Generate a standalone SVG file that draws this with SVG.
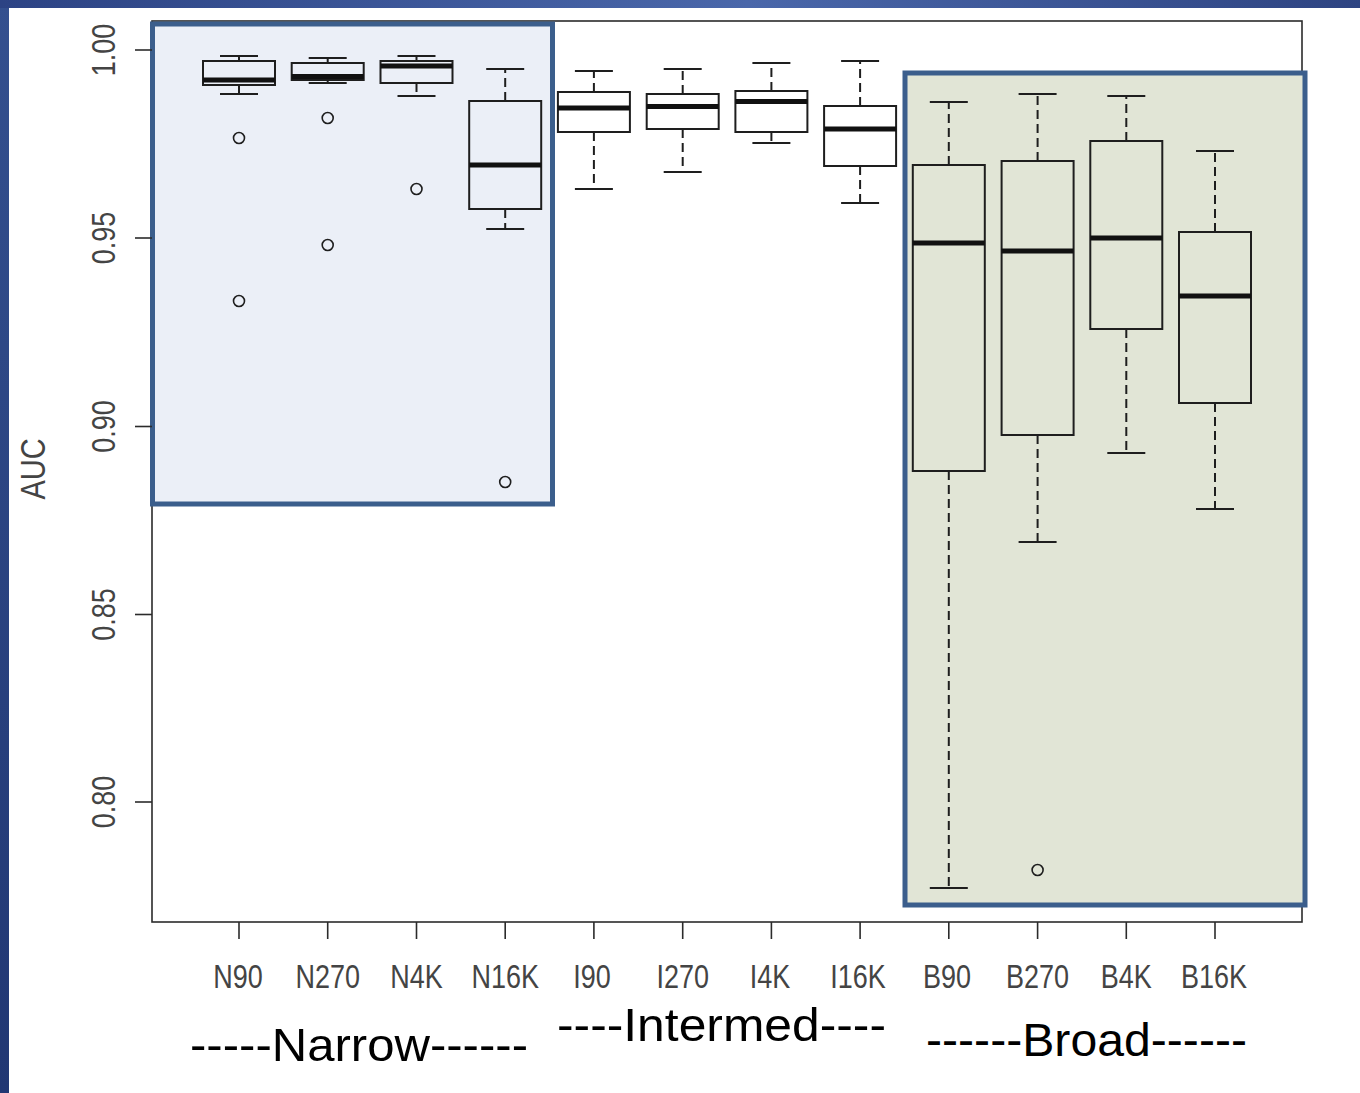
<svg xmlns="http://www.w3.org/2000/svg" width="1360" height="1093" viewBox="0 0 1360 1093">
<defs>
<linearGradient id="bgH" x1="0" y1="0" x2="1" y2="0">
<stop offset="0" stop-color="#2c4384"/>
<stop offset="0.55" stop-color="#4a67aa"/>
<stop offset="1" stop-color="#2e4482"/>
</linearGradient>
<linearGradient id="bgV" x1="0" y1="0" x2="0" y2="1">
<stop offset="0" stop-color="#34508f"/>
<stop offset="1" stop-color="#213773"/>
</linearGradient>
<style>
.frame{fill:none;stroke:#2b2b2b;stroke-width:1.6}
.hl{stroke:#3b5e8c;stroke-width:5}
.box{fill:none;stroke:#1e1e1e;stroke-width:2}
.med{stroke:#111;stroke-width:5}
.wh{stroke:#1e1e1e;stroke-width:2;stroke-dasharray:9 5}
.cap{stroke:#1e1e1e;stroke-width:2}
.out{fill:none;stroke:#1e1e1e;stroke-width:1.6}
.tick{stroke:#2b2b2b;stroke-width:1.6}
.tl{font-family:"Liberation Sans",Arial,sans-serif;font-size:27px;fill:#444444;text-anchor:middle}
.grp{font-family:"Liberation Sans",Arial,sans-serif;font-size:47px;fill:#000}
</style>
</defs>
<rect x="0" y="0" width="1360" height="1093" fill="url(#bgV)"/>
<rect x="0" y="0" width="1360" height="8" fill="url(#bgH)"/>
<rect x="9" y="8" width="1351" height="1085" fill="#ffffff"/>

<g id="plot-frame">
<rect class="frame" x="152" y="21" width="1150" height="901"/>
</g>

<g id="highlight-narrow">
<rect class="hl" x="152.5" y="24" width="400" height="480" fill="#ebeff7"/>
</g>
<g id="highlight-broad">
<rect class="hl" x="905" y="73" width="400" height="832" fill="#e1e5d6"/>
</g>

<g id="box-N90">
<line class="wh" x1="239" y1="61" x2="239" y2="56"/><line class="cap" x1="220" y1="56" x2="258" y2="56"/>
<line class="wh" x1="239" y1="85" x2="239" y2="94"/><line class="cap" x1="220" y1="94" x2="258" y2="94"/>
<rect class="box" x="203" y="61" width="72" height="24"/>
<line class="med" x1="203" y1="80" x2="275" y2="80"/>
<circle class="out" cx="239" cy="138" r="5.5"/><circle class="out" cx="239" cy="301" r="5.5"/>
</g>
<g id="box-N270">
<line class="wh" x1="327.7" y1="63" x2="327.7" y2="58"/><line class="cap" x1="308.7" y1="58" x2="346.7" y2="58"/>
<line class="wh" x1="327.7" y1="80" x2="327.7" y2="83"/><line class="cap" x1="308.7" y1="83" x2="346.7" y2="83"/>
<rect class="box" x="291.7" y="63" width="72" height="17"/>
<line class="med" x1="291.7" y1="76.5" x2="363.7" y2="76.5"/>
<circle class="out" cx="327.7" cy="118" r="5.5"/><circle class="out" cx="327.7" cy="245" r="5.5"/>
</g>
<g id="box-N4K">
<line class="wh" x1="416.5" y1="61" x2="416.5" y2="56"/><line class="cap" x1="397.5" y1="56" x2="435.5" y2="56"/>
<line class="wh" x1="416.5" y1="83" x2="416.5" y2="96"/><line class="cap" x1="397.5" y1="96" x2="435.5" y2="96"/>
<rect class="box" x="380.5" y="61" width="72" height="22"/>
<line class="med" x1="380.5" y1="66" x2="452.5" y2="66"/>
<circle class="out" cx="416.5" cy="189" r="5.5"/>
</g>
<g id="box-N16K">
<line class="wh" x1="505.2" y1="101" x2="505.2" y2="69"/><line class="cap" x1="486.2" y1="69" x2="524.2" y2="69"/>
<line class="wh" x1="505.2" y1="209" x2="505.2" y2="229"/><line class="cap" x1="486.2" y1="229" x2="524.2" y2="229"/>
<rect class="box" x="469.2" y="101" width="72" height="108"/>
<line class="med" x1="469.2" y1="165" x2="541.2" y2="165"/>
<circle class="out" cx="505.2" cy="482" r="5.5"/>
</g>
<g id="box-I90">
<line class="wh" x1="593.9" y1="92" x2="593.9" y2="71"/><line class="cap" x1="574.9" y1="71" x2="612.9" y2="71"/>
<line class="wh" x1="593.9" y1="132" x2="593.9" y2="189"/><line class="cap" x1="574.9" y1="189" x2="612.9" y2="189"/>
<rect class="box" x="557.9" y="92" width="72" height="40"/>
<line class="med" x1="557.9" y1="108" x2="629.9" y2="108"/>
</g>
<g id="box-I270">
<line class="wh" x1="682.7" y1="94" x2="682.7" y2="69"/><line class="cap" x1="663.7" y1="69" x2="701.7" y2="69"/>
<line class="wh" x1="682.7" y1="129" x2="682.7" y2="172"/><line class="cap" x1="663.7" y1="172" x2="701.7" y2="172"/>
<rect class="box" x="646.7" y="94" width="72" height="35"/>
<line class="med" x1="646.7" y1="106.5" x2="718.7" y2="106.5"/>
</g>
<g id="box-I4K">
<line class="wh" x1="771.4" y1="91" x2="771.4" y2="63"/><line class="cap" x1="752.4" y1="63" x2="790.4" y2="63"/>
<line class="wh" x1="771.4" y1="132" x2="771.4" y2="143"/><line class="cap" x1="752.4" y1="143" x2="790.4" y2="143"/>
<rect class="box" x="735.4" y="91" width="72" height="41"/>
<line class="med" x1="735.4" y1="101.5" x2="807.4" y2="101.5"/>
</g>
<g id="box-I16K">
<line class="wh" x1="860.1" y1="106" x2="860.1" y2="61"/><line class="cap" x1="841.1" y1="61" x2="879.1" y2="61"/>
<line class="wh" x1="860.1" y1="166" x2="860.1" y2="203"/><line class="cap" x1="841.1" y1="203" x2="879.1" y2="203"/>
<rect class="box" x="824.1" y="106" width="72" height="60"/>
<line class="med" x1="824.1" y1="129" x2="896.1" y2="129"/>
</g>
<g id="box-B90">
<line class="wh" x1="948.8" y1="165" x2="948.8" y2="102"/><line class="cap" x1="929.8" y1="102" x2="967.8" y2="102"/>
<line class="wh" x1="948.8" y1="471" x2="948.8" y2="888"/><line class="cap" x1="929.8" y1="888" x2="967.8" y2="888"/>
<rect class="box" x="912.8" y="165" width="72" height="306"/>
<line class="med" x1="912.8" y1="243" x2="984.8" y2="243"/>
</g>
<g id="box-B270">
<line class="wh" x1="1037.6" y1="161" x2="1037.6" y2="94"/><line class="cap" x1="1018.6" y1="94" x2="1056.6" y2="94"/>
<line class="wh" x1="1037.6" y1="435" x2="1037.6" y2="542"/><line class="cap" x1="1018.6" y1="542" x2="1056.6" y2="542"/>
<rect class="box" x="1001.6" y="161" width="72" height="274"/>
<line class="med" x1="1001.6" y1="251" x2="1073.6" y2="251"/>
<circle class="out" cx="1037.6" cy="870" r="5.5"/>
</g>
<g id="box-B4K">
<line class="wh" x1="1126.3" y1="141" x2="1126.3" y2="96"/><line class="cap" x1="1107.3" y1="96" x2="1145.3" y2="96"/>
<line class="wh" x1="1126.3" y1="329" x2="1126.3" y2="453"/><line class="cap" x1="1107.3" y1="453" x2="1145.3" y2="453"/>
<rect class="box" x="1090.3" y="141" width="72" height="188"/>
<line class="med" x1="1090.3" y1="238" x2="1162.3" y2="238"/>
</g>
<g id="box-B16K">
<line class="wh" x1="1215" y1="232" x2="1215" y2="151"/><line class="cap" x1="1196" y1="151" x2="1234" y2="151"/>
<line class="wh" x1="1215" y1="403" x2="1215" y2="509"/><line class="cap" x1="1196" y1="509" x2="1234" y2="509"/>
<rect class="box" x="1179" y="232" width="72" height="171"/>
<line class="med" x1="1179" y1="296" x2="1251" y2="296"/>
</g>

<g id="y-axis">
<line class="tick" x1="135" y1="50" x2="152" y2="50"/>
<line class="tick" x1="135" y1="238" x2="152" y2="238"/>
<line class="tick" x1="135" y1="426.5" x2="152" y2="426.5"/>
<line class="tick" x1="135" y1="614.5" x2="152" y2="614.5"/>
<line class="tick" x1="135" y1="802" x2="152" y2="802"/>
<text class="tl" transform="translate(115,50) rotate(-90) scale(1,1.2)">1.00</text>
<text class="tl" transform="translate(115,238) rotate(-90) scale(1,1.2)">0.95</text>
<text class="tl" transform="translate(115,426.5) rotate(-90) scale(1,1.2)">0.90</text>
<text class="tl" transform="translate(115,614.5) rotate(-90) scale(1,1.2)">0.85</text>
<text class="tl" transform="translate(115,802) rotate(-90) scale(1,1.2)">0.80</text>
<text class="tl" transform="translate(45,469) rotate(-90) scale(1,1.2)" style="font-size:29px">AUC</text>
</g>

<g id="x-axis">
<line class="tick" x1="239" y1="922" x2="239" y2="939"/>
<line class="tick" x1="327.7" y1="922" x2="327.7" y2="939"/>
<line class="tick" x1="416.5" y1="922" x2="416.5" y2="939"/>
<line class="tick" x1="505.2" y1="922" x2="505.2" y2="939"/>
<line class="tick" x1="593.9" y1="922" x2="593.9" y2="939"/>
<line class="tick" x1="682.7" y1="922" x2="682.7" y2="939"/>
<line class="tick" x1="771.4" y1="922" x2="771.4" y2="939"/>
<line class="tick" x1="860.1" y1="922" x2="860.1" y2="939"/>
<line class="tick" x1="948.8" y1="922" x2="948.8" y2="939"/>
<line class="tick" x1="1037.6" y1="922" x2="1037.6" y2="939"/>
<line class="tick" x1="1126.3" y1="922" x2="1126.3" y2="939"/>
<line class="tick" x1="1215" y1="922" x2="1215" y2="939"/>
<text class="tl" transform="translate(238,988) scale(1,1.2)">N90</text>
<text class="tl" transform="translate(327.7,988) scale(1,1.2)">N270</text>
<text class="tl" transform="translate(416.5,988) scale(1,1.2)">N4K</text>
<text class="tl" transform="translate(505.2,988) scale(1,1.2)">N16K</text>
<text class="tl" transform="translate(592,988) scale(1,1.2)">I90</text>
<text class="tl" transform="translate(682.7,988) scale(1,1.2)">I270</text>
<text class="tl" transform="translate(770,988) scale(1,1.2)">I4K</text>
<text class="tl" transform="translate(858,988) scale(1,1.2)">I16K</text>
<text class="tl" transform="translate(947,988) scale(1,1.2)">B90</text>
<text class="tl" transform="translate(1037.6,988) scale(1,1.2)">B270</text>
<text class="tl" transform="translate(1126.3,988) scale(1,1.2)">B4K</text>
<text class="tl" transform="translate(1214,988) scale(1,1.2)">B16K</text>
</g>

<g id="group-labels">
<text class="grp" x="190" y="1061" textLength="338" lengthAdjust="spacingAndGlyphs">-----Narrow------</text>
<text class="grp" x="557" y="1041" textLength="329" lengthAdjust="spacingAndGlyphs">----Intermed----</text>
<text class="grp" x="926" y="1056" textLength="321" lengthAdjust="spacingAndGlyphs">------Broad------</text>
</g>
</svg>
